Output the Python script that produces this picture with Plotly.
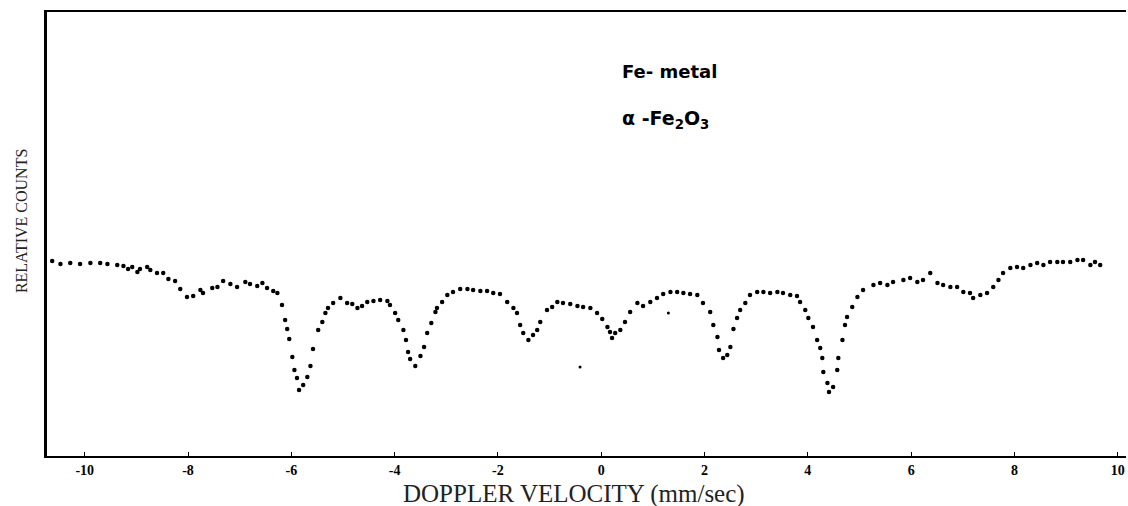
import plotly.graph_objects as go

# Doppler velocity (mm/sec)
velocity = [
    -10.63, -10.47, -10.28, -10.09, -9.89, -9.70, -9.56, -9.37, -9.25, -9.16,
    -9.08, -8.98, -8.93, -8.79, -8.73, -8.60, -8.48, -8.38, -8.25, -8.15,
    -8.02, -7.90, -7.76, -7.71, -7.53, -7.43, -7.32, -7.18, -7.05, -6.89,
    -6.80, -6.66, -6.56, -6.47, -6.35, -6.27, -6.18, -6.12, -6.08, -6.04,
    -5.98, -5.94, -5.89, -5.85, -5.77, -5.69, -5.63, -5.58, -5.48, -5.40,
    -5.34, -5.29, -5.19, -5.05, -4.92, -4.82, -4.72, -4.63, -4.53, -4.41,
    -4.28, -4.14, -4.09, -3.99, -3.93, -3.83, -3.78, -3.74, -3.70, -3.60,
    -3.50, -3.43, -3.37, -3.29, -3.21, -3.18, -3.08, -2.98, -2.87, -2.73,
    -2.59, -2.48, -2.34, -2.21, -2.09, -1.96, -1.82, -1.70, -1.63, -1.57,
    -1.51, -1.41, -1.32, -1.24, -1.18, -1.05, -0.95, -0.85, -0.74, -0.60,
    -0.46, -0.35, -0.21, -0.08, 0.02, 0.12, 0.17, 0.21, 0.27, 0.37,
    0.46, 0.56, 0.70, 0.81, 0.95, 1.08, 1.20, 1.34, 1.47, 1.59,
    1.72, 1.86, 1.97, 2.11, 2.17, 2.25, 2.28, 2.36, 2.44, 2.50,
    2.56, 2.63, 2.69, 2.79, 2.88, 3.02, 3.14, 3.27, 3.41, 3.52,
    3.66, 3.79, 3.85, 3.95, 4.01, 4.10, 4.18, 4.24, 4.28, 4.30,
    4.38, 4.41, 4.49, 4.57, 4.59, 4.67, 4.72, 4.76, 4.86, 4.96,
    5.07, 5.27, 5.40, 5.54, 5.65, 5.85, 5.98, 6.12, 6.23, 6.37,
    6.51, 6.62, 6.76, 6.89, 7.01, 7.14, 7.20, 7.34, 7.47, 7.59,
    7.69, 7.78, 7.92, 8.05, 8.17, 8.31, 8.44, 8.56, 8.69, 8.83,
    8.94, 9.08, 9.22, 9.33, 9.47, 9.56, 9.66,
]

# Relative counts (%), baseline ~100
counts = [
    100.1, 99.8, 99.9, 99.8, 99.9, 99.9, 99.8, 99.7, 99.6, 99.3,
    99.5, 99.0, 99.3, 99.5, 99.2, 98.9, 98.9, 98.3, 98.1, 97.3,
    96.5, 96.6, 97.2, 96.9, 97.4, 97.5, 98.1, 97.8, 97.5, 98.0,
    97.8, 97.6, 97.9, 97.4, 97.1, 96.9, 95.7, 94.2, 93.3, 92.3,
    90.5, 89.2, 88.4, 87.2, 87.7, 88.5, 89.6, 91.3, 93.2, 94.0,
    94.9, 95.4, 95.9, 96.4, 95.9, 95.8, 95.4, 95.6, 96.0, 96.1,
    96.2, 96.1, 95.7, 94.9, 94.2, 93.2, 92.2, 91.0, 90.3, 89.6,
    90.6, 91.5, 92.9, 93.9, 95.0, 95.4, 96.0, 96.7, 97.0, 97.3,
    97.3, 97.2, 97.1, 97.1, 96.9, 96.8, 96.0, 95.4, 94.9, 93.7,
    92.9, 92.2, 92.7, 93.2, 94.0, 95.2, 95.5, 96.0, 95.9, 95.8,
    95.6, 95.5, 95.4, 94.9, 94.3, 93.5, 93.0, 92.4, 92.9, 93.2,
    94.0, 95.0, 95.9, 95.6, 96.0, 96.4, 96.8, 97.0, 97.0, 96.9,
    96.8, 96.7, 95.9, 95.0, 93.7, 92.5, 91.2, 90.4, 90.7, 91.5,
    93.3, 94.4, 95.2, 95.9, 96.7, 97.0, 97.0, 96.9, 97.0, 96.9,
    96.7, 96.6, 96.0, 95.2, 94.4, 93.5, 92.2, 91.4, 90.4, 89.0,
    87.9, 87.0, 87.5, 89.2, 90.4, 92.2, 93.7, 94.5, 95.5, 96.5,
    97.2, 97.7, 97.9, 97.7, 98.0, 98.2, 98.4, 98.0, 98.2, 98.9,
    97.9, 97.7, 97.5, 97.5, 97.0, 96.9, 96.4, 96.7, 96.9, 97.5,
    98.2, 98.9, 99.4, 99.5, 99.4, 99.7, 99.9, 99.7, 100.0, 100.0,
    100.0, 100.0, 100.2, 100.2, 99.7, 100.0, 99.7,
]

# isolated stray points visible on the scan
stray_velocity = [-0.41, 1.30]
stray_counts = [89.5, 94.9]

tick_values = [-10, -8, -6, -4, -2, 0, 2, 4, 6, 8, 10]
tick_labels = ["-10", "-8", "-6", "-4", "-2", "0", "2", "4", "6", "8", "10"]

fig = go.Figure()
fig.add_trace(go.Scatter(
    x=velocity, y=counts, mode="markers",
    marker=dict(color="black", size=4.5, symbol="circle"),
    showlegend=False, hoverinfo="skip",
))
fig.add_trace(go.Scatter(
    x=stray_velocity, y=stray_counts, mode="markers",
    marker=dict(color="black", size=3),
    showlegend=False, hoverinfo="skip",
))

fig.update_layout(
    width=1128, height=506,
    margin=dict(l=47, r=2, t=12, b=50),
    paper_bgcolor="white", plot_bgcolor="white",
    xaxis=dict(
        range=[-10.73, 10.16], showgrid=False, zeroline=False,
        showline=True, linecolor="black", linewidth=2, mirror=True,
        tickmode="array", tickvals=tick_values, ticktext=tick_labels,
        ticks="inside", ticklen=4, tickcolor="black", tickwidth=1,
        ticklabelstandoff=0,
        tickfont=dict(family="Liberation Sans Narrow", size=14, color="black", weight="bold"),
    ),
    yaxis=dict(
        range=[80.6, 125.0], showgrid=False, zeroline=False,
        showline=True, linecolor="black", linewidth=3, mirror=False,
        showticklabels=False, ticks="",
    ),
    annotations=[
        dict(text="DOPPLER VELOCITY (mm/sec)", xref="paper", yref="paper",
             x=0.488, y=0, yshift=-38, xanchor="center", yanchor="middle",
             showarrow=False,
             font=dict(family="Liberation Serif", size=25, color="#222")),
        dict(text="RELATIVE COUNTS", xref="paper", yref="paper",
             x=0, xshift=-26, y=0.529, xanchor="center", yanchor="middle",
             textangle=-90, showarrow=False,
             font=dict(family="Liberation Serif", size=16, color="#222")),
        dict(text="Fe- metal", xref="paper", yref="paper",
             x=0.531, y=0.865, xanchor="left", yanchor="middle",
             showarrow=False,
             font=dict(family="DejaVu Sans", size=18, color="black", weight="bold")),
        dict(text="α -Fe<sub>2</sub>O<sub>3</sub>", xref="paper", yref="paper",
             x=0.531, y=0.757, xanchor="left", yanchor="middle",
             showarrow=False,
             font=dict(family="DejaVu Sans", size=19, color="black", weight="bold")),
    ],
)

# remove the default page margin so the figure sits at the window's corner
fig.write_html(
    "out.html",
    config={"displayModeBar": False},
    post_script="document.body.style.margin='0';document.body.style.overflow='hidden';",
)
